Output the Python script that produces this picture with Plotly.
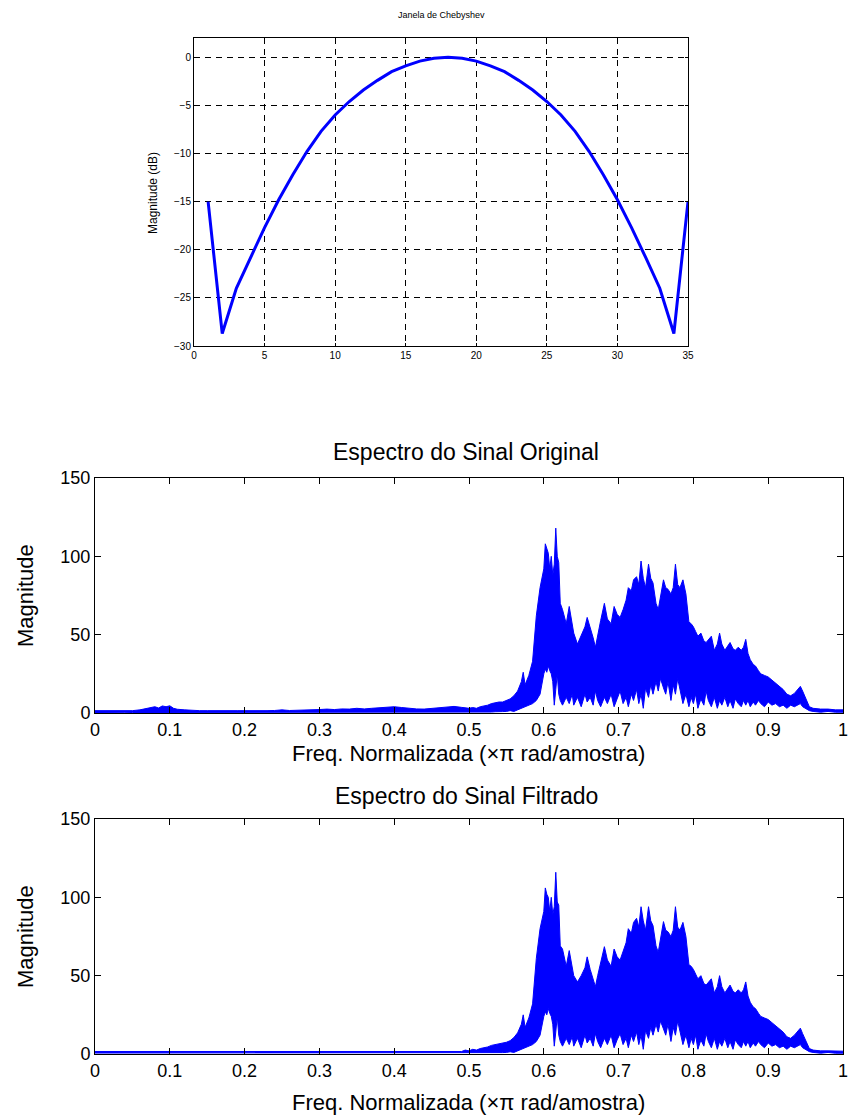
import plotly.graph_objects as go

# ---------------- Top chart: Chebyshev window (dB) ----------------
win_n = list(range(1, 36))
win_db = [-15.0, -28.7, -24.0, -20.8, -17.7, -14.8, -12.2, -9.8, -7.7, -6.0,
          -4.6, -3.4, -2.4, -1.5, -0.9, -0.4, -0.1, 0.0, -0.1, -0.4,
          -0.9, -1.5, -2.4, -3.4, -4.6, -6.0, -7.7, -9.8, -12.2, -14.8,
          -17.7, -20.8, -24.0, -28.7, -15.0]
win_xticks = [0, 5, 10, 15, 20, 25, 30, 35]
win_yticks = [-30, -25, -20, -15, -10, -5, 0]

# ---------------- Spectrum of original signal (envelopes) ----------------
freq_orig = [0.00, 0.01, 0.02, 0.03, 0.04, 0.05, 0.06, 0.07, 0.075, 0.08,
             0.085, 0.09, 0.095, 0.10, 0.105, 0.11, 0.12, 0.13, 0.14, 0.15,
             0.16, 0.17, 0.18, 0.19, 0.20, 0.21, 0.22, 0.23, 0.24, 0.25,
             0.26, 0.27, 0.28, 0.29, 0.30, 0.31, 0.32, 0.33, 0.34, 0.35,
             0.36, 0.37, 0.38, 0.39, 0.40, 0.41, 0.42, 0.43, 0.44, 0.45,
             0.46, 0.47, 0.48, 0.49,
             0.500, 0.505, 0.510, 0.515, 0.520, 0.525, 0.530, 0.535, 0.540, 0.545,
             0.550, 0.555, 0.560, 0.565, 0.570, 0.5725, 0.575, 0.580, 0.585, 0.590,
             0.595, 0.600, 0.602, 0.604, 0.606, 0.608, 0.610, 0.612, 0.614, 0.616,
             0.618, 0.620, 0.622, 0.625, 0.630, 0.634, 0.638, 0.640, 0.645, 0.650,
             0.655, 0.658, 0.662, 0.666, 0.669, 0.672, 0.676, 0.681, 0.685, 0.690,
             0.694, 0.698, 0.702, 0.706, 0.710, 0.713, 0.717, 0.720, 0.724, 0.727,
             0.730, 0.733, 0.736, 0.740, 0.743, 0.746, 0.750, 0.753, 0.756, 0.760,
             0.763, 0.766, 0.770, 0.773, 0.776, 0.779, 0.782, 0.786, 0.790, 0.794,
             0.797, 0.800, 0.803, 0.806, 0.810, 0.814, 0.817, 0.820, 0.824, 0.828,
             0.832, 0.835, 0.838, 0.842, 0.846, 0.849, 0.853, 0.856, 0.860, 0.864,
             0.867, 0.870, 0.873, 0.876, 0.880, 0.883, 0.887, 0.890, 0.895, 0.900,
             0.905, 0.910, 0.915, 0.920, 0.925, 0.930, 0.935, 0.940, 0.943, 0.946,
             0.950, 0.955, 0.960, 0.970, 0.980, 0.990, 1.000]
upper_orig = [1.5, 1.5, 1.4, 1.5, 1.4, 1.5, 2.0, 3.0, 3.5, 4.0,
              3.2, 4.5, 4.0, 4.6, 3.0, 2.4, 2.0, 1.6, 1.5, 1.5,
              1.4, 1.5, 1.6, 1.5, 1.5, 1.4, 1.5, 1.5, 1.6, 2.0,
              1.6, 1.7, 2.0, 1.8, 2.2, 2.5, 2.2, 2.6, 2.5, 3.0,
              2.6, 3.0, 3.2, 3.6, 4.0, 3.5, 3.0, 2.6, 2.5, 3.0,
              3.2, 3.6, 4.2, 3.6,
              3.0, 3.5, 3.0, 4.0, 4.5, 5.0, 6.0, 6.5, 7.0, 7.0,
              8.0, 9.0, 11.0, 14.0, 20.0, 26.0, 18.0, 24.0, 33.0, 62.0,
              80.0, 92.0, 108.0, 104.0, 102.0, 92.0, 100.0, 88.0, 95.0, 118.0,
              100.0, 96.0, 70.0, 66.0, 57.0, 68.0, 56.0, 51.0, 44.0, 50.0,
              55.0, 61.0, 55.0, 48.0, 42.0, 50.0, 59.0, 70.0, 60.0, 57.0,
              68.0, 63.0, 61.0, 66.0, 72.0, 80.0, 78.0, 85.0, 87.0, 82.0,
              97.0, 86.0, 80.0, 95.0, 86.0, 83.0, 70.0, 66.0, 75.0, 85.0,
              80.0, 79.0, 76.0, 80.0, 95.0, 82.0, 80.0, 85.0, 76.0, 58.0,
              57.0, 55.0, 52.0, 49.0, 51.0, 46.0, 45.0, 47.0, 49.0, 40.0,
              44.0, 51.0, 44.0, 40.0, 43.0, 45.0, 41.0, 40.0, 42.0, 40.0,
              42.0, 47.0, 38.0, 34.0, 31.0, 30.0, 27.0, 25.0, 24.0, 23.0,
              21.0, 19.0, 17.0, 15.0, 12.0, 11.0, 12.5, 15.0, 17.0, 14.0,
              9.0, 4.0, 3.0, 2.5, 2.5, 2.0, 2.0]
lower_orig = [0.3, 0.4, 0.3, 0.3, 0.4, 0.3, 0.3, 0.4, 0.5, 0.5,
              0.4, 0.5, 0.5, 0.5, 0.4, 0.3, 0.3, 0.3, 0.3, 0.3,
              0.3, 0.3, 0.3, 0.3, 0.3, 0.3, 0.3, 0.3, 0.3, 0.3,
              0.3, 0.3, 0.3, 0.3, 0.3, 0.3, 0.3, 0.3, 0.3, 0.3,
              0.3, 0.3, 0.3, 0.3, 0.3, 0.3, 0.3, 0.3, 0.3, 0.3,
              0.3, 0.3, 0.3, 0.3,
              0.5, 0.5, 0.6, 0.5, 0.6, 0.7, 0.6, 0.8, 0.7, 0.9,
              1.0, 1.5, 1.0, 2.0, 3.0, 3.0, 4.0, 5.0, 6.0, 8.0,
              12.0, 25.0, 28.0, 26.0, 30.0, 27.0, 25.0, 20.0, 5.0, 15.0,
              25.0, 12.0, 8.0, 5.0, 10.0, 6.0, 12.0, 5.0, 10.0, 4.0,
              12.0, 7.0, 10.0, 5.0, 14.0, 8.0, 4.0, 10.0, 6.0, 12.0,
              4.0, 9.0, 14.0, 6.0, 10.0, 4.0, 12.0, 8.0, 15.0, 6.0,
              12.0, 3.0, 16.0, 10.0, 18.0, 12.0, 20.0, 14.0, 22.0, 16.0,
              12.0, 20.0, 8.0, 18.0, 12.0, 22.0, 14.0, 6.0, 12.0, 4.0,
              10.0, 6.0, 12.0, 3.0, 9.0, 5.0, 14.0, 8.0, 4.0, 10.0,
              3.0, 8.0, 5.0, 10.0, 4.0, 8.0, 3.0, 9.0, 6.0, 4.0,
              8.0, 5.0, 8.0, 4.0, 7.0, 5.0, 8.0, 6.0, 4.0, 7.0,
              5.0, 6.0, 4.0, 5.0, 3.0, 5.0, 4.0, 5.0, 6.0, 4.0,
              3.0, 1.5, 1.0, 0.5, 1.0, 0.5, 0.5]

# ---------------- Spectrum of filtered signal (envelopes) ----------------
freq_filt = [0.00, 0.10, 0.20, 0.30, 0.40, 0.49, 0.495,
             0.500, 0.505, 0.510, 0.515, 0.520, 0.525, 0.530, 0.535, 0.540, 0.545,
             0.550, 0.555, 0.560, 0.565, 0.570, 0.5725, 0.575, 0.580, 0.585, 0.590,
             0.595, 0.600, 0.602, 0.604, 0.606, 0.608, 0.610, 0.612, 0.614, 0.616,
             0.618, 0.620, 0.622, 0.625, 0.630, 0.634, 0.638, 0.640, 0.645, 0.650,
             0.655, 0.658, 0.662, 0.666, 0.669, 0.672, 0.676, 0.681, 0.685, 0.690,
             0.694, 0.698, 0.702, 0.706, 0.710, 0.713, 0.717, 0.720, 0.724, 0.727,
             0.730, 0.733, 0.736, 0.740, 0.743, 0.746, 0.750, 0.753, 0.756, 0.760,
             0.763, 0.766, 0.770, 0.773, 0.776, 0.779, 0.782, 0.786, 0.790, 0.794,
             0.797, 0.800, 0.803, 0.806, 0.810, 0.814, 0.817, 0.820, 0.824, 0.828,
             0.832, 0.835, 0.838, 0.842, 0.846, 0.849, 0.853, 0.856, 0.860, 0.864,
             0.867, 0.870, 0.873, 0.876, 0.880, 0.883, 0.887, 0.890, 0.895, 0.900,
             0.905, 0.910, 0.915, 0.920, 0.925, 0.930, 0.935, 0.940, 0.943, 0.946,
             0.950, 0.955, 0.960, 0.970, 0.980, 0.990, 1.000]
upper_filt = [1.6, 1.6, 1.6, 1.6, 1.6, 1.6, 2.5,
              2.0, 3.0, 2.5, 3.5, 4.0, 4.5, 5.5, 6.0, 6.5, 7.0,
              7.5, 8.5, 10.5, 13.5, 19.0, 25.0, 17.0, 23.0, 32.0, 61.0,
              80.0, 91.0, 106.0, 102.0, 100.0, 91.0, 100.0, 89.0, 94.0, 116.0,
              97.0, 95.0, 69.0, 67.0, 56.0, 66.0, 55.0, 50.0, 46.0, 50.0,
              55.0, 62.0, 54.0, 47.0, 43.0, 50.0, 58.0, 68.5, 60.0, 56.0,
              67.0, 62.0, 60.0, 66.0, 71.0, 80.0, 77.0, 84.0, 86.6, 81.0,
              94.0, 85.0, 79.0, 94.0, 85.0, 82.0, 69.0, 65.0, 74.0, 84.5,
              79.0, 78.0, 75.0, 79.0, 94.0, 81.0, 79.0, 84.0, 75.0, 57.0,
              56.0, 54.0, 51.0, 48.0, 50.0, 45.0, 44.0, 46.0, 48.0, 39.0,
              43.0, 50.0, 43.0, 39.0, 42.0, 44.0, 40.0, 39.0, 41.0, 39.0,
              41.0, 46.0, 37.0, 33.0, 30.0, 29.0, 26.0, 24.0, 23.0, 22.0,
              20.0, 18.0, 16.0, 14.0, 11.0, 10.0, 12.0, 14.5, 16.5, 13.0,
              8.5, 3.5, 2.5, 2.0, 2.0, 1.8, 1.8]
lower_filt = [0.6, 0.6, 0.6, 0.6, 0.6, 0.6, 0.6,
              0.5, 0.6, 0.5, 0.6, 0.6, 0.7, 0.6, 0.8, 0.7, 0.9,
              1.0, 1.4, 1.0, 2.0, 3.0, 3.0, 4.0, 5.0, 6.0, 8.0,
              12.0, 24.0, 27.0, 25.0, 29.0, 26.0, 24.0, 19.0, 5.0, 14.0,
              24.0, 12.0, 8.0, 5.0, 10.0, 6.0, 11.0, 5.0, 10.0, 4.0,
              12.0, 7.0, 10.0, 5.0, 13.0, 8.0, 4.0, 10.0, 6.0, 12.0,
              4.0, 9.0, 13.0, 6.0, 10.0, 4.0, 12.0, 8.0, 14.0, 6.0,
              12.0, 3.0, 15.0, 10.0, 17.0, 12.0, 19.0, 14.0, 21.0, 16.0,
              12.0, 19.0, 8.0, 17.0, 12.0, 21.0, 14.0, 6.0, 12.0, 4.0,
              10.0, 6.0, 12.0, 3.0, 9.0, 5.0, 13.0, 8.0, 4.0, 10.0,
              3.0, 8.0, 5.0, 10.0, 4.0, 8.0, 3.0, 9.0, 6.0, 4.0,
              8.0, 5.0, 8.0, 4.0, 7.0, 5.0, 8.0, 6.0, 4.0, 7.0,
              5.0, 6.0, 4.0, 5.0, 3.0, 5.0, 4.0, 5.0, 6.0, 4.0,
              3.0, 1.5, 1.0, 0.5, 1.0, 0.5, 0.5]

freq_ticks = [0, 0.1, 0.2, 0.3, 0.4, 0.5, 0.6, 0.7, 0.8, 0.9, 1]
freq_ticktext = ["0", "0.1", "0.2", "0.3", "0.4", "0.5", "0.6", "0.7", "0.8", "0.9", "1"]
mag_ticks = [0, 50, 100, 150]

assert len(freq_orig) == len(upper_orig) == len(lower_orig)
assert len(freq_filt) == len(upper_filt) == len(lower_filt)

W, H = 852, 1117
BLUE = "#0000FF"
FONT = "Liberation Sans, Arial, sans-serif"


def px(x):
    return x / W


def py(y):
    return 1 - y / H


fig = go.Figure()

fig.add_trace(go.Scatter(x=win_n, y=win_db, mode="lines",
                         line=dict(color=BLUE, width=3), xaxis="x", yaxis="y",
                         showlegend=False))

fig.add_trace(go.Scatter(x=freq_orig, y=lower_orig, mode="lines",
                         line=dict(color=BLUE, width=1), xaxis="x2", yaxis="y2",
                         showlegend=False))
fig.add_trace(go.Scatter(x=freq_orig, y=upper_orig, mode="lines",
                         line=dict(color=BLUE, width=1), fill="tonexty",
                         fillcolor=BLUE, xaxis="x2", yaxis="y2", showlegend=False))

fig.add_trace(go.Scatter(x=freq_filt, y=lower_filt, mode="lines",
                         line=dict(color=BLUE, width=1), xaxis="x3", yaxis="y3",
                         showlegend=False))
fig.add_trace(go.Scatter(x=freq_filt, y=upper_filt, mode="lines",
                         line=dict(color=BLUE, width=1), fill="tonexty",
                         fillcolor=BLUE, xaxis="x3", yaxis="y3", showlegend=False))

small_font = dict(family=FONT, size=10, color="black")
big_tick_font = dict(family=FONT, size=18, color="black")

common_axis = dict(showline=True, linecolor="black", linewidth=1, mirror="allticks",
                   ticks="inside", tickcolor="black", zeroline=False, automargin=False)

fig.update_layout(
    width=W, height=H,
    margin=dict(l=0, r=0, t=0, b=0, autoexpand=False),
    paper_bgcolor="white", plot_bgcolor="white",
    showlegend=False,
    xaxis=dict(domain=[px(194), px(688)], range=[0, 35], tickvals=win_xticks,
               showgrid=True, gridcolor="black", gridwidth=1, griddash="6px,5px",
               ticklen=3, tickfont=small_font, anchor="y", **common_axis),
    yaxis=dict(domain=[py(346), py(38)], range=[-30, 2], tickvals=win_yticks,
               showgrid=True, gridcolor="black", gridwidth=1, griddash="6px,5px",
               ticklen=3, tickfont=small_font, anchor="x", **common_axis),
    xaxis2=dict(domain=[px(95), px(843)], range=[0, 1], tickvals=freq_ticks,
                ticktext=freq_ticktext, showgrid=False, ticklen=6,
                tickfont=big_tick_font, anchor="y2", **common_axis),
    yaxis2=dict(domain=[py(713), py(478)], range=[0, 150], tickvals=mag_ticks,
                showgrid=False, ticklen=6, tickfont=big_tick_font, anchor="x2",
                **common_axis),
    xaxis3=dict(domain=[px(95), px(843)], range=[0, 1], tickvals=freq_ticks,
                ticktext=freq_ticktext, showgrid=False, ticklen=6,
                tickfont=big_tick_font, anchor="y3", **common_axis),
    yaxis3=dict(domain=[py(1054), py(819)], range=[0, 150], tickvals=mag_ticks,
                showgrid=False, ticklen=6, tickfont=big_tick_font, anchor="x3",
                **common_axis),
)

title_font = dict(family=FONT, size=23, color="black")
label_font = dict(family=FONT, size=22, color="black")
ann = [
    dict(text="Janela de Chebyshev", x=px(441), y=py(15), font=dict(family=FONT, size=9, color="black")),
    dict(text="Magnitude (dB)", x=px(153), y=py(193), textangle=-90,
         font=dict(family=FONT, size=12, color="black")),
    dict(text="Espectro do Sinal Original", x=px(466), y=py(452), font=title_font),
    dict(text="Freq. Normalizada (×π rad/amostra)", x=px(468), y=py(753), font=label_font),
    dict(text="Magnitude", x=px(25), y=py(596), textangle=-90, font=label_font),
    dict(text="Espectro do Sinal Filtrado", x=px(466), y=py(796), font=title_font),
    dict(text="Freq. Normalizada (×π rad/amostra)", x=px(468), y=py(1102), font=label_font),
    dict(text="Magnitude", x=px(25), y=py(937), textangle=-90, font=label_font),
]
for a in ann:
    fig.add_annotation(xref="paper", yref="paper", showarrow=False,
                       xanchor="center", yanchor="middle", **a)

fig.write_html("out.html", config={"displayModeBar": False},
               post_script="document.body.style.margin='0px';document.body.style.padding='0px';")
